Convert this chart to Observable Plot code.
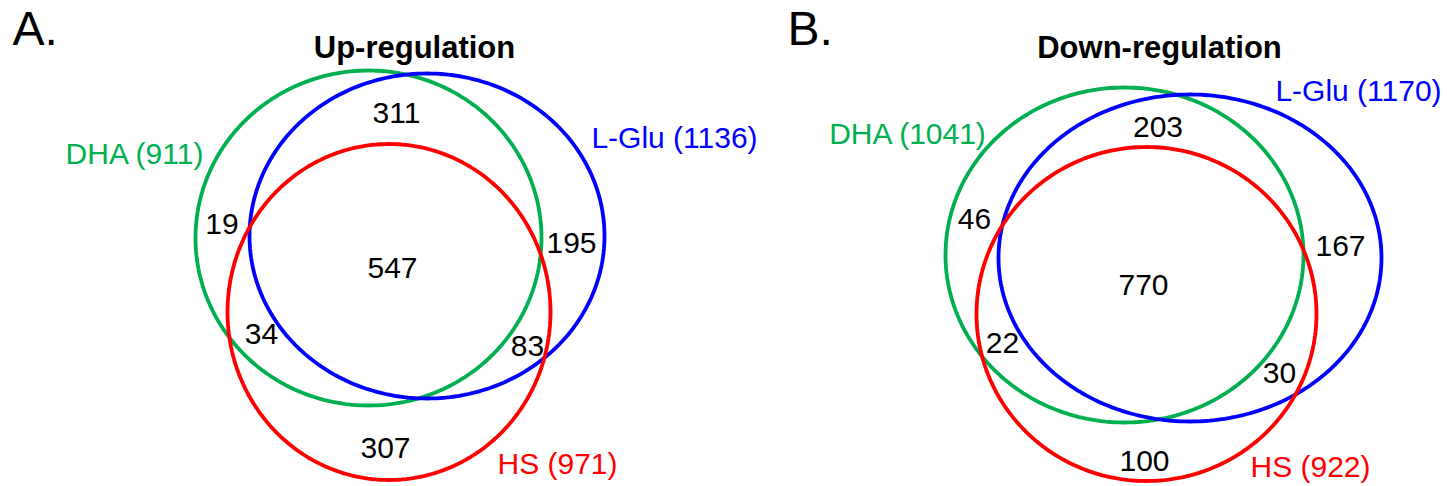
<!DOCTYPE html>
<html>
<head>
<meta charset="utf-8">
<script src="https://cdn.jsdelivr.net/npm/d3@7"></script>
<script src="https://cdn.jsdelivr.net/npm/@observablehq/plot@0.6"></script>
<style>
  html, body { margin: 0; padding: 0; background: #fff; }
  svg { display: block; }
  g[aria-label="set-labels"] text { letter-spacing: 1px; }
</style>
</head>
<body>
<div id="chart"></div>
<script>
// ---------- data ----------
const panelLetters = ["A.", "B."];
const panelTitles = ["Up-regulation", "Down-regulation"];
const setNames = ["DHA", "L-Glu", "HS"];
const setColors = ["#00B050", "#0000FF", "#FF0000"];
const upTotals = [911, 1136, 971];
const downTotals = [1041, 1170, 922];
const regionNames = ["DHA only", "L-Glu only", "HS only", "DHA & L-Glu", "DHA & HS", "L-Glu & HS", "All three"];
const upCounts = [19, 195, 307, 311, 34, 83, 547];
const downCounts = [46, 167, 100, 203, 22, 30, 770];

// ---------- layout (pixel space of the figure) ----------
// ellipses per panel: [cx, cy, rx, ry] for DHA, L-Glu, HS
const ellipseLayout = [
  [[368, 237.5, 173, 167.5], [426.5, 235.5, 177.5, 162.5], [388.5, 311.5, 161.5, 168]],
  [[1124, 254.5, 179, 167.5], [1189.5, 257.5, 191.5, 163.5], [1146, 313.5, 170, 167]]
];
// region number anchors (x, baseline)
const regionLayout = [
  [[221.5, 233], [571, 252], [385, 457], [396, 122], [261, 343], [527, 355], [392, 277]],
  [[974, 228], [1340, 255], [1144, 470], [1157.5, 136.5], [1002, 352], [1279, 382], [1143, 294]]
];
// set label anchors (x center, baseline)
const setLabelLayout = [
  [[134, 163], [674, 147], [557, 473]],
  [[907, 143], [1358, 100], [1310, 476]]
];
const letterLayout = [[12, 44], [787, 44]];
const titleLayout = [[414, 57], [1159, 57]];

// ---------- build tables ----------
const totals = [upTotals, downTotals];
const counts = [upCounts, downCounts];

const ellipsePts = [];
ellipseLayout.forEach((panel, p) => {
  panel.forEach(([cx, cy, rx, ry], s) => {
    const n = 240;
    for (let i = 0; i < n; i++) {
      const t = (i / n) * 2 * Math.PI;
      ellipsePts.push({id: p * 3 + s, set: setNames[s], x: cx + rx * Math.cos(t), y: cy + ry * Math.sin(t)});
    }
  });
});

const regionText = [];
counts.forEach((arr, p) => arr.forEach((v, r) => regionText.push({
  x: regionLayout[p][r][0], y: regionLayout[p][r][1], label: String(v), region: regionNames[r]
})));

const setText = [];
totals.forEach((arr, p) => arr.forEach((v, s) => setText.push({
  x: setLabelLayout[p][s][0], y: setLabelLayout[p][s][1], label: `${setNames[s]} (${v})`, set: setNames[s]
})));

const letters = panelLetters.map((l, p) => ({x: letterLayout[p][0], y: letterLayout[p][1], label: l}));
const titles = panelTitles.map((t, p) => ({x: titleLayout[p][0], y: titleLayout[p][1], label: t}));

const font = "Liberation Sans, Arial, Helvetica, sans-serif";

const chart = Plot.plot({
  width: 1447,
  height: 486,
  margin: 0,
  x: {domain: [0, 1447], range: [0, 1447], axis: null},
  y: {domain: [0, 486], range: [0, 486], axis: null},
  color: {domain: setNames, range: setColors},
  style: {background: "#fff", fontFamily: font},
  marks: [
    Plot.line(ellipsePts, {x: "x", y: "y", z: "id", stroke: "set", strokeWidth: 3.8, curve: "linear-closed"}),
    Plot.text(regionText, {x: "x", y: "y", text: "label", fontSize: 30, fill: "#000", lineAnchor: "bottom", fontFamily: font}),
    Plot.text(setText, {x: "x", y: "y", text: "label", fontSize: 30, fill: "set", lineAnchor: "bottom", fontFamily: font, ariaLabel: "set-labels"}),
    Plot.text(letters, {x: "x", y: "y", text: "label", fontSize: 48, fill: "#000", textAnchor: "start", lineAnchor: "bottom", fontFamily: font}),
    Plot.text(titles, {x: "x", y: "y", text: "label", fontSize: 31, fontWeight: "bold", fill: "#000", lineAnchor: "bottom", fontFamily: font})
  ]
});
document.getElementById("chart").appendChild(chart);
</script>
</body>
</html>
